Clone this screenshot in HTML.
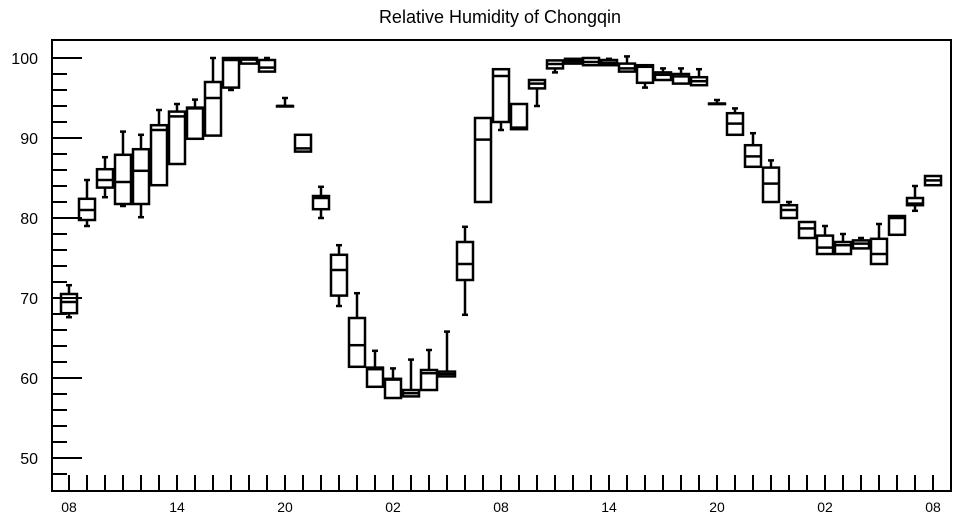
<!DOCTYPE html>
<html><head><meta charset="utf-8"><style>
body{margin:0;background:#fff;width:957px;height:520px;overflow:hidden}
svg text{font-family:"Liberation Sans",sans-serif;fill:#000}
</style></head><body>
<svg id="chart" width="957" height="520" viewBox="0 0 957 520">
<text x="500" y="23" font-size="18" text-anchor="middle">Relative Humidity of Chongqin</text>
<rect x="52" y="40" width="899" height="451" fill="none" stroke="#000" stroke-width="2"/>
<g id="yaxis"></g>
<g id="xaxis"></g>
<g id="boxes"></g>
</svg>
<script>
const hours = ["08","09","10","11","12","13","14","15","16","17","18","19","20","21","22","23","00","01","02","03","04","05","06","07","08","09","10","11","12","13","14","15","16","17","18","19","20","21","22","23","00","01","02","03","04","05","06","07","08"];
const xTickLabels = ["08","14","20","02","08","14","20","02","08"];
const yTickLabels = [50,60,70,80,90,100];
const q1 =  [68.1,79.75,83.8,81.75,81.75,84.1,86.75,89.9,90.3,96.3,99.3,98.3,94.0,88.3,81.1,70.3,61.4,58.9,57.5,57.7,58.5,60.2,72.25,82.0,92.0,91.1,96.2,98.7,99.3,99.1,99.1,98.3,96.9,97.25,96.8,96.6,94.3,90.4,86.4,82.0,80.0,77.5,75.5,75.5,76.2,74.25,77.9,81.6,84.1];
const med = [69.5,81.0,84.75,84.5,85.9,91.0,92.7,93.7,95.0,99.75,99.8,98.8,94.0,88.7,82.5,73.5,64.1,61.1,59.8,58.1,60.6,60.5,74.25,89.8,97.75,91.3,96.8,99.25,99.6,99.5,99.4,98.7,98.9,97.9,97.7,97.1,94.3,91.8,87.7,84.3,81.0,78.7,76.3,76.6,76.8,75.5,80.0,81.8,84.7];
const q3 =  [70.5,82.4,86.1,87.9,88.6,91.6,93.3,93.8,97.0,100.0,100.0,99.75,94.0,90.4,82.75,75.4,67.5,61.3,59.9,58.5,61.0,60.8,77.0,92.5,98.6,94.25,97.25,99.7,99.9,100.0,99.75,99.3,99.1,98.2,98.0,97.6,94.3,93.1,89.1,86.3,81.6,79.5,77.8,77.0,77.2,77.4,80.25,82.5,85.25];
const wlo = [67.6,79.0,82.6,81.5,80.1,84.1,86.75,89.9,90.3,96.0,99.3,98.3,94.0,88.3,80.0,69.0,61.4,58.9,57.5,57.7,58.5,60.2,67.9,82.0,91.0,91.1,94.0,98.2,99.3,99.1,99.1,98.3,96.3,97.25,96.8,96.6,94.3,90.4,86.4,82.0,80.0,77.5,75.5,75.5,76.2,74.25,77.9,80.9,84.1];
const whi = [71.6,84.75,87.6,90.8,90.4,93.5,94.25,94.8,100.0,100.0,100.0,100.0,95.0,90.4,83.9,76.6,70.6,63.4,61.2,62.3,63.5,65.8,78.9,92.5,98.6,94.25,97.25,99.7,99.9,100.0,99.9,100.2,99.1,98.7,98.7,98.6,94.75,93.7,90.6,87.2,82.0,79.5,79.0,78.0,77.5,79.25,80.25,84.0,85.25];

const NS="http://www.w3.org/2000/svg";
const X0=69, DX=18, Y100=58, PXU=8, BOTTOM=491, LEFT=52;
const xScale = i => X0 + DX*i;
const yScale = v => Y100 + (100 - v)*PXU;
function mk(tag, attrs, parent){const e=document.createElementNS(NS,tag);for(const k in attrs)e.setAttribute(k,attrs[k]);parent.appendChild(e);return e;}

const ya=document.getElementById('yaxis');
for(let v=48; v<=100; v+=2){
  const major = v%10===0;
  const t=mk('line',{x1:LEFT,x2:LEFT+(major?30:15),y1:yScale(v),y2:yScale(v),stroke:'#000','stroke-width':2},ya);
  
  
}
yTickLabels.forEach(v=>{
  const t=mk('text',{x:38,y:yScale(v)+6,'font-size':16,'text-anchor':'end'},ya);
  t.textContent=v;
  
  
});
const xa=document.getElementById('xaxis');
hours.forEach((h,i)=>{
  const t=mk('line',{x1:xScale(i),x2:xScale(i),y1:BOTTOM,y2:BOTTOM-16,stroke:'#000','stroke-width':2},xa);
  
  
});
xTickLabels.forEach((l,j)=>{
  const t=mk('text',{x:xScale(j*6),y:512,'font-size':14,'text-anchor':'middle'},xa);
  t.textContent=l;
  
  
});
const bg=document.getElementById('boxes');
hours.forEach((h,i)=>{
  const g=mk('g',{},bg);
  
  
  const cx=xScale(i), w=16;
  const top=yScale(Math.min(q3[i],100.2)), bot=yScale(q1[i]);
  const st={stroke:'#000','stroke-width':2.5,fill:'none'};
  if(whi[i]>q3[i]+0.05){
    mk('line',Object.assign({x1:cx,x2:cx,y1:yScale(whi[i]),y2:top},st),g);
    mk('line',Object.assign({x1:cx-3,x2:cx+3,y1:yScale(whi[i]),y2:yScale(whi[i])},st),g);
  }
  if(wlo[i]<q1[i]-0.05){
    mk('line',Object.assign({x1:cx,x2:cx,y1:bot,y2:yScale(wlo[i])},st),g);
    mk('line',Object.assign({x1:cx-3,x2:cx+3,y1:yScale(wlo[i]),y2:yScale(wlo[i])},st),g);
  }
  mk('rect',Object.assign({x:cx-w/2,y:top,width:w,height:Math.max(bot-top,0.5)},st),g);
  mk('line',Object.assign({x1:cx-w/2,x2:cx+w/2,y1:yScale(med[i]),y2:yScale(med[i])},st),g);
});
</script>
</body></html>
